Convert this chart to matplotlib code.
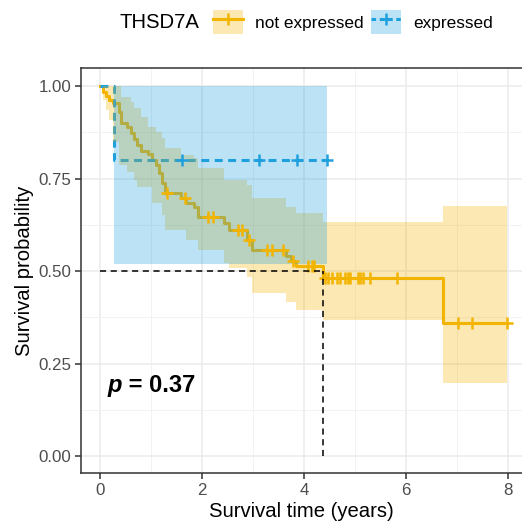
import numpy as np
import matplotlib
matplotlib.use("Agg")
import matplotlib.pyplot as plt
from matplotlib.patches import Patch
from matplotlib.lines import Line2D
from matplotlib.ticker import MultipleLocator

plt.rcParams['font.family'] = ['Liberation Sans', 'DejaVu Sans']

# ---------------- data ----------------
legend_title = "THSD7A"
group_labels = ["not expressed", "expressed"]

# not expressed: Kaplan-Meier steps
ne_time = [0.00, 0.06, 0.12, 0.18, 0.25, 0.37, 0.41, 0.53, 0.61, 0.67,
           0.73, 0.80, 0.94, 1.02, 1.10, 1.16, 1.22, 1.27, 1.59, 1.69,
           1.84, 1.92, 2.43, 2.53, 2.88, 2.98, 3.65, 3.75, 3.84, 4.37, 6.73]
ne_surv = [1.000, 0.984, 0.973, 0.962, 0.954, 0.930, 0.900, 0.889, 0.873, 0.857,
           0.841, 0.824, 0.816, 0.800, 0.786, 0.765, 0.738, 0.711, 0.697, 0.684,
           0.673, 0.646, 0.630, 0.611, 0.584, 0.557, 0.541, 0.527, 0.514, 0.481, 0.360]
ne_lower = [1.000, 0.962, 0.935, 0.908, 0.849, 0.786, 0.786, 0.768, 0.768, 0.746,
            0.727, 0.727, 0.727, 0.684, 0.684, 0.684, 0.651, 0.611, 0.611, 0.584,
            0.584, 0.557, 0.522, 0.508, 0.484, 0.441, 0.416, 0.416, 0.395, 0.368, 0.197]
ne_upper = [1.000, 1.000, 1.000, 1.000, 1.000, 1.000, 0.970, 0.970, 0.957, 0.941,
            0.941, 0.916, 0.889, 0.889, 0.876, 0.876, 0.859, 0.832, 0.814, 0.814,
            0.805, 0.778, 0.746, 0.746, 0.732, 0.697, 0.673, 0.673, 0.657, 0.632, 0.676]
ne_end = 7.98
ne_censor = [1.31, 1.67, 2.12, 2.22, 2.71, 2.78, 2.92, 3.27, 3.37, 3.59,
             3.78, 4.08, 4.16, 4.20, 4.41, 4.47, 4.55, 4.65, 4.71, 4.80,
             4.86, 4.90, 5.06, 5.10, 5.16, 5.29, 5.82, 7.02, 7.29, 7.98]

# expressed
ex_time = [0.00, 0.27]
ex_surv = [1.00, 0.80]
ex_lower = [1.00, 0.52]
ex_upper = [1.00, 1.00]
ex_end = 4.45
ex_censor = [1.60, 3.12, 3.86, 4.45]

median_ne = 4.37
p_text = "0.37"

x_ticks = [0, 2, 4, 6, 8]
y_ticks = [0.00, 0.25, 0.50, 0.75, 1.00]

# ---------------- style ----------------
c_ne = "#F3B400"
c_ex = "#1FA0DE"
alpha_ci = 0.3

W, H = 522, 532
fig = plt.figure(figsize=(W / 100, H / 100), dpi=100)
ax_left, ax_right, ax_top, ax_bottom = 81, 522, 68, 473
ax = fig.add_axes([ax_left / W, 1 - ax_bottom / H, (ax_right - ax_left) / W, (ax_bottom - ax_top) / H])
ax.set_xlim(-0.37, 8.27)
ax.set_ylim(-0.046, 1.049)

# grid
ax.xaxis.set_major_locator(MultipleLocator(2))
ax.xaxis.set_minor_locator(MultipleLocator(1))
ax.yaxis.set_major_locator(MultipleLocator(0.25))
ax.yaxis.set_minor_locator(MultipleLocator(0.125))
ax.grid(which='major', color='#EBEBEB', lw=1.1)
ax.grid(which='minor', color='#F2F2F2', lw=0.7)
ax.set_axisbelow(True)


def steps(times, vals, end):
    x = list(times) + [end]
    y = list(vals) + [vals[-1]]
    return x, y


# lines first (ribbons are drawn over them, as in the reference)
x, y = steps(ne_time, ne_surv, ne_end)
ax.step(x, y, where='post', color=c_ne, lw=2.2, zorder=2)
x, y = steps(ex_time, ex_surv, ex_end)
ax.step(x, y, where='post', color=c_ex, lw=2.2, ls=(0, (2.6, 1.8)), zorder=2)

# confidence ribbons
x, lo = steps(ne_time, ne_lower, ne_end)
_, hi = steps(ne_time, ne_upper, ne_end)
ax.fill_between(x, lo, hi, step='post', color=c_ne, alpha=alpha_ci, lw=0, zorder=3)
x, lo = steps(ex_time, ex_lower, ex_end)
_, hi = steps(ex_time, ex_upper, ex_end)
ax.fill_between(x, lo, hi, step='post', color=c_ex, alpha=alpha_ci, lw=0, zorder=3)


# censor marks
def censor_y(times, vals, cens):
    idx = np.searchsorted(np.array(times), np.array(cens), side='right') - 1
    return np.array(vals)[idx]


ax.plot(ne_censor, censor_y(ne_time, ne_surv, ne_censor), ls='none', marker='+',
        ms=8.5, mew=1.8, color=c_ne, zorder=4)
ax.plot(ex_censor, censor_y(ex_time, ex_surv, ex_censor), ls='none', marker='+',
        ms=8.5, mew=1.8, color=c_ex, zorder=4)

# median lines
ax.plot([0, median_ne], [0.5, 0.5], color='black', lw=1.1, ls=(0, (4, 3)), zorder=5)
ax.plot([median_ne, median_ne], [0, 0.5], color='black', lw=1.1, ls=(0, (4, 3)), zorder=5)

# p-value
t1 = ax.text(0.15, 0.172, "p", fontsize=17, fontweight='bold', fontstyle='italic',
             ha='left', va='baseline', zorder=6)
ax.annotate(" = " + p_text, xy=(1, 0), xycoords=t1, fontsize=17, fontweight='bold',
            ha='left', va='bottom', zorder=6)

# axes styling
ax.set_xticks(x_ticks)
ax.set_yticks(y_ticks)
ax.set_yticklabels([f"{v:.2f}" for v in y_ticks])
ax.tick_params(which='major', length=4, width=1.1, color='#333333',
               labelsize=12.2, labelcolor='#4D4D4D', pad=3)
ax.tick_params(which='minor', length=0)
for s in ['left', 'bottom', 'top']:
    ax.spines[s].set_color('#333333')
    ax.spines[s].set_linewidth(1.1)
ax.spines['right'].set_visible(False)
ax.set_xlabel("Survival time (years)", fontsize=14.6, labelpad=3)
ax.set_ylabel("Survival probability", fontsize=14.6, labelpad=3)

# legend
fig.text(120 / W, 1 - 22 / H, legend_title, fontsize=14.6, ha='left', va='center')
h_ne = (Patch(facecolor=c_ne, alpha=alpha_ci, edgecolor='none'),
        Line2D([], [], color=c_ne, lw=2.2, marker='+', ms=8.5, mew=1.8))
h_ex = (Patch(facecolor=c_ex, alpha=alpha_ci, edgecolor='none'),
        Line2D([], [], color=c_ex, lw=2.2, ls=(0, (1.5, 1.2)), marker='+', ms=8.5, mew=1.8))
fig.legend([h_ne, h_ex], group_labels, loc='center left',
           bbox_to_anchor=(213 / W, 1 - 22 / H), ncol=2, frameon=False,
           fontsize=12.4, handlelength=1.75, handleheight=1.75, handletextpad=0.7,
           columnspacing=0.4, borderpad=0, borderaxespad=0)

fig.savefig("out.png", dpi=100)
